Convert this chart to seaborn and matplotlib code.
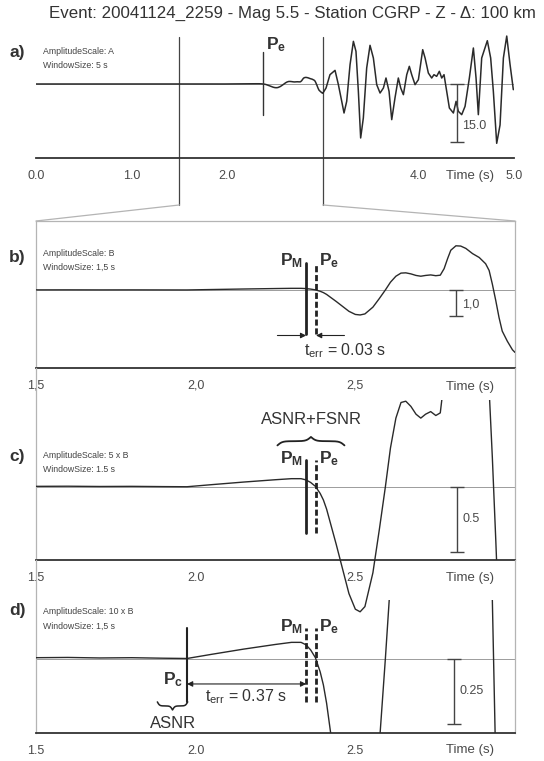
import numpy as np
import matplotlib
matplotlib.use("Agg")
import matplotlib.pyplot as plt
from matplotlib.patches import Rectangle, ConnectionPatch
import seaborn as sns

# seismogram
# 1.5 - 3.0 s, amplitude in units of B (panels b, c, d)
zoom_time = [1.50, 1.60, 1.70, 1.80, 1.90, 1.973, 2.05, 2.15, 2.25, 2.30, 2.33,
             2.345, 2.36, 2.375, 2.39, 2.40, 2.41, 2.42, 2.44, 2.46, 2.48, 2.50,
             2.515, 2.53, 2.555, 2.575, 2.594, 2.61, 2.627, 2.643, 2.658, 2.674,
             2.69, 2.705, 2.72, 2.736, 2.752, 2.766, 2.778, 2.789, 2.799, 2.815,
             2.830, 2.846, 2.867, 2.888, 2.908, 2.919, 2.929, 2.940, 2.950, 2.960,
             2.976, 2.992, 3.000]
zoom_amp = [0.005, 0.006, 0.004, 0.005, 0.003, 0.002, 0.018, 0.038, 0.056, 0.064, 0.064,
            0.055, 0.035, 0.005, -0.05, -0.10, -0.17, -0.26, -0.44, -0.63, -0.82, -0.94,
            -0.96, -0.92, -0.66, -0.33, 0.0, 0.30, 0.53, 0.65, 0.66, 0.62,
            0.56, 0.53, 0.56, 0.58, 0.55, 0.57, 0.82, 1.21, 1.53, 1.70,
            1.69, 1.60, 1.40, 1.25, 1.01, 0.75, 0.23, -0.42, -1.06, -1.58,
            -1.97, -2.30, -2.40]

# 3.0 - 5.0 s
tail_time = [3.034, 3.075, 3.128, 3.163, 3.198, 3.222, 3.250, 3.285, 3.320, 3.347,
             3.372, 3.396, 3.424, 3.459, 3.494, 3.529, 3.564, 3.599, 3.634, 3.661,
             3.693, 3.721, 3.755, 3.790, 3.815, 3.843, 3.878, 3.905, 3.930, 3.965,
             4.000, 4.045, 4.070, 4.104, 4.139, 4.163, 4.191, 4.219, 4.244, 4.268,
             4.296, 4.324, 4.366, 4.394, 4.418, 4.453, 4.488, 4.533, 4.575, 4.603,
             4.627, 4.662, 4.721, 4.756, 4.784, 4.819, 4.854, 4.889, 4.924, 4.958,
             4.993]
tail_amp = [-1.03, 2.41, 3.53, -0.17, -4.48, -7.50, -4.48, 5.00, 11.03, 8.45,
            -1.90, -13.96, -8.79, 4.14, 10.00, 6.72, -0.17, -2.33, -1.03, 1.55,
            -1.90, -9.22, -3.62, 1.55, -1.03, -2.76, 2.41, 4.57, 2.41, -0.17,
            1.12, 8.88, 6.72, 2.84, 1.55, 2.41, 1.98, 3.28, 1.55, 2.41,
            -1.90, -6.21, -7.50, -4.48, -7.07, -7.93, -5.78, 1.55, 9.31, 1.55,
            -7.93, 6.72, 11.20, 6.72, -1.90, -15.34, -10.60, 6.72, 12.40, 5.17,
            -1.47]

full_time = [0.0] + zoom_time + tail_time
full_amp = [0.0] + zoom_amp + tail_amp

t_pick_c = 1.973
t_pick_m = 2.346
t_pick_e = 2.377

title = "Event: 20041124_2259 - Mag 5.5 - Station CGRP - Z - \u0394: 100 km"
amp_labels = ["AmplitudeScale: A", "AmplitudeScale: B",
              "AmplitudeScale: 5 x B", "AmplitudeScale: 10 x B"]
win_labels = ["WindowSize: 5 s", "WindowSize: 1,5 s",
              "WindowSize: 1.5 s", "WindowSize: 1,5 s"]
panel_names = ["a)", "b)", "c)", "d)"]
scale_values = [15.0, 1.0, 0.5, 0.25]
scale_texts = ["15.0", "1,0", "0.5", "0.25"]
zoom_ticklabels = [["1,5", "2,0", "2,5", ""],
                   ["1.5", "2.0", "2.5", ""],
                   ["1.5", "2.0", "2.5", ""]]

sns.set_theme(style="white")
plt.rcParams["font.family"] = ["Liberation Sans", "DejaVu Sans"]
plt.rcParams["mathtext.fontset"] = "custom"
plt.rcParams["mathtext.rm"] = "Liberation Sans"
plt.rcParams["mathtext.bf"] = "Liberation Sans:bold"
plt.rcParams["mathtext.it"] = "Liberation Sans:italic"

W, H = 544, 761
TRACE = "#2a2a2a"
BASE = "#9c9c9c"
FRAME = "#b4b4b4"
AXIS = "#333333"
TXT = "#333333"


def px_axes(fig, left, right, top, bottom):
    return fig.add_axes([left / W, 1 - bottom / H, (right - left) / W, (bottom - top) / H])


def fig_text(fig, x, y, s, **kw):
    return fig.text(x / W, 1 - y / H, s, **kw)


def brace(ax, x0, x1, y_end, y_tip, **kw):
    u = np.linspace(0, 1, 80)
    half = 1 / (1 + np.exp(-14 * u)) + 1 / (1 + np.exp(-14 * (u - 1)))
    half = (half - half[0]) / (half[-1] - half[0])
    shape = np.concatenate([half, half[::-1][1:]])
    xs = np.linspace(x0, x1, shape.size)
    ax.plot(xs, y_end + (y_tip - y_end) * shape, **kw)


fig = plt.figure(figsize=(W / 100, H / 100), dpi=100)

# (top, baseline, bottom, pixels per amplitude unit)
geo = [(30, 84, 158, 58 / 15), (221, 290, 368, 26.0),
       (368, 487, 560, 130.0), (560, 659, 733, 260.0)]
axes = []
for i, (top, base, bottom, ppu) in enumerate(geo):
    right = 514 if i == 0 else 515
    ax = px_axes(fig, 36, right, top, bottom)
    ax.set_ylim(-(bottom - base) / ppu, (base - top) / ppu)
    ax.set_facecolor("none")
    ax.set_yticks([])
    ax.axhline(0, color=BASE, lw=0.7, zorder=1)
    for side in ["top", "left", "right"]:
        ax.spines[side].set_visible(False)
    ax.spines["bottom"].set_color(AXIS)
    ax.spines["bottom"].set_linewidth(1.3)
    ax.tick_params(axis="x", which="both", direction="in", colors=AXIS,
                   labelsize=9, pad=8.5, labelcolor="#4a4a4a")
    ax.tick_params(axis="x", which="major", length=4.5, width=0.9)
    ax.tick_params(axis="x", which="minor", length=3, width=0.8)
    axes.append(ax)
ax_a, ax_b, ax_c, ax_d = axes

# panel a
ax_a.set_xlim(0, 5)
ax_a.set_xticks(np.arange(0, 5.01, 1.0))
ax_a.set_xticklabels(["0.0", "1.0", "2.0", "", "4.0", "5.0"])
ax_a.set_xticks(np.arange(0, 5.01, 0.2), minor=True)
sns.lineplot(x=full_time, y=full_amp, ax=ax_a, color=TRACE, linewidth=1.1,
             estimator=None, sort=False, zorder=3)

# zoom panels share one box
for k, ax in enumerate([ax_b, ax_c, ax_d]):
    ax.set_xlim(1.5, 3.0)
    ax.set_xticks([1.5, 2.0, 2.5, 3.0])
    ax.set_xticklabels(zoom_ticklabels[k])
    ax.set_xticks(np.arange(1.5, 3.001, 0.1), minor=True)
    for side in ["left", "right"]:
        ax.spines[side].set_visible(True)
        ax.spines[side].set_color(FRAME)
        ax.spines[side].set_linewidth(0.9)
ax_b.spines["top"].set_visible(True)
ax_b.spines["top"].set_color(FRAME)
ax_b.spines["top"].set_linewidth(0.9)

sns.lineplot(x=zoom_time, y=zoom_amp, ax=ax_b, color=TRACE, linewidth=1.0,
             estimator=None, sort=False, zorder=3)

# panel c: the big swing runs below its axis, the late drop is cut at the axis
zt = np.array(zoom_time)
za = np.array(zoom_amp)
early = zt <= 2.8
late = zt >= 2.799
for mask, low in [(early, -1.05), (late, ax_c.get_ylim()[0])]:
    sns.lineplot(x=zt[mask], y=za[mask], ax=ax_c, color=TRACE, linewidth=1.0,
                 estimator=None, sort=False, zorder=3)
    ax_c.lines[-1].set_clip_path(Rectangle((1.5, low), 1.5, 0.67 - low,
                                           transform=ax_c.transData))

sns.lineplot(x=zoom_time, y=zoom_amp, ax=ax_d, color=TRACE, linewidth=1.0,
             estimator=None, sort=False, zorder=3)
d_low = ax_d.get_ylim()[0]
ax_d.lines[-1].set_clip_path(Rectangle((1.5, d_low), 1.5, 0.227 - d_low,
                                       transform=ax_d.transData))

# window lines from panel a down to panel b
for t0, corner in [(1.5, (0, 1)), (3.0, (1, 1))]:
    ax_a.plot([t0, t0], [0.945, -0.367], transform=ax_a.get_xaxis_transform(),
              color="#444444", lw=0.9, clip_on=False, zorder=2)
    con = ConnectionPatch(xyA=(t0, -0.367), coordsA=ax_a.get_xaxis_transform(),
                          xyB=corner, coordsB=ax_b.transAxes, color=FRAME, lw=0.9)
    fig.add_artist(con)

# picks
bold_p = dict(fontsize=12.5, color=TXT, va="center", textcoords="offset points")
lab_m = r"$\mathbf{P}_{\mathbf{M}}$"
lab_e = r"$\mathbf{P}_{\mathbf{e}}$"
lab_c = r"$\mathbf{P}_{\mathbf{c}}$"

ax_a.plot([t_pick_e, t_pick_e], [-8.0, 8.3], color="#333333", lw=1.0, zorder=4)
ax_a.annotate(lab_e, (t_pick_e, 10.2), xytext=(2, 0), ha="left", **bold_p)

dash = (0, (2.2, 1.0))
for ax, lo, hi, ylab, m_style in [(ax_b, -1.7, 1.05, 1.12, "-"),
                                  (ax_c, -0.35, 0.21, 0.22, "-"),
                                  (ax_d, -0.165, 0.12, 0.125, dash)]:
    ax.plot([t_pick_m, t_pick_m], [lo, hi], color="#222222", lw=2.0,
            ls=m_style, zorder=4)
    ax.plot([t_pick_e, t_pick_e], [lo, hi], color="#222222", lw=2.0,
            ls=dash, zorder=4)
    ax.annotate(lab_m, (t_pick_m, ylab), xytext=(-2, 0), ha="right", **bold_p)
    ax.annotate(lab_e, (t_pick_e, ylab), xytext=(2, 0), ha="left", **bold_p)

arrow = dict(arrowstyle="-|>", color="#222222", lw=0.8, mutation_scale=8,
             shrinkA=0, shrinkB=0)
ax_b.annotate("", xy=(t_pick_m, -1.75), xytext=(2.256, -1.75), arrowprops=arrow)
ax_b.annotate("", xy=(t_pick_e, -1.75), xytext=(2.466, -1.75), arrowprops=arrow)
ax_b.text(2.468, -2.33, r"t$_{\mathrm{err}}$ = 0.03 s", ha="center", va="center",
          fontsize=11.5, color=TXT)

ax_d.plot([t_pick_c, t_pick_c], [-0.165, 0.12], color="#222222", lw=1.5, zorder=4)
ax_d.annotate(lab_c, (t_pick_c, -0.08), xytext=(-3, 0), ha="right", **bold_p)
ax_d.annotate("", xy=(t_pick_m, -0.096), xytext=(t_pick_c, -0.096),
              arrowprops=dict(arrow, arrowstyle="<|-|>"))
ax_d.text(2.159, -0.146, r"t$_{\mathrm{err}}$ = 0.37 s", ha="center", va="center",
          fontsize=11.5, color=TXT)

# SNR windows
ax_c.text(2.362, 0.52, "ASNR+FSNR", ha="center", va="center", fontsize=12,
          color=TXT)
brace(ax_c, 2.256, 2.466, 0.32, 0.385, color="#222222", lw=1.3)
brace(ax_d, 1.88, 1.975, -0.165, -0.196, color="#222222", lw=1.1)
ax_d.text(1.928, -0.248, "ASNR", ha="center", va="center", fontsize=12,
          color=TXT)

# amplitude scale bars
for ax, tb, val, txt, ytxt in [(ax_a, 4.40, scale_values[0], scale_texts[0], -10.9),
                               (ax_b, 2.816, scale_values[1], scale_texts[1], -0.55),
                               (ax_c, 2.818, scale_values[2], scale_texts[2], -0.25),
                               (ax_d, 2.81, scale_values[3], scale_texts[3], -0.125)]:
    ax.errorbar([tb], [-val / 2], yerr=[val / 2], fmt="none", ecolor="#444444",
                elinewidth=1.0, capsize=5, capthick=1.0, zorder=4)
    ax.annotate(txt, (tb, ytxt), xytext=(4, 0), textcoords="offset points",
                ha="left", va="center", fontsize=9, color="#4a4a4a")

# texts
fig_text(fig, 292, 13, title, ha="center", va="center", fontsize=12.2, color=TXT)
label_y = [(52, 51, 65), (257, 253, 267), (457, 456, 470), (611, 611, 626)]
for name, amp_lab, win_lab, (yl, y1, y2) in zip(panel_names, amp_labels, win_labels, label_y):
    fig_text(fig, 9, yl, name, ha="left", va="center", fontsize=12.5,
             fontweight="bold", color=TXT)
    fig_text(fig, 43, y1, amp_lab, ha="left", va="center", fontsize=6.3, color="#444444")
    fig_text(fig, 43, y2, win_lab, ha="left", va="center", fontsize=6.3, color="#444444")
for ytime in [176, 387, 578, 750]:
    fig_text(fig, 470, ytime, "Time (s)", ha="center", va="center", fontsize=9.5,
             color="#4a4a4a")

fig.savefig("out.png", dpi=100)
